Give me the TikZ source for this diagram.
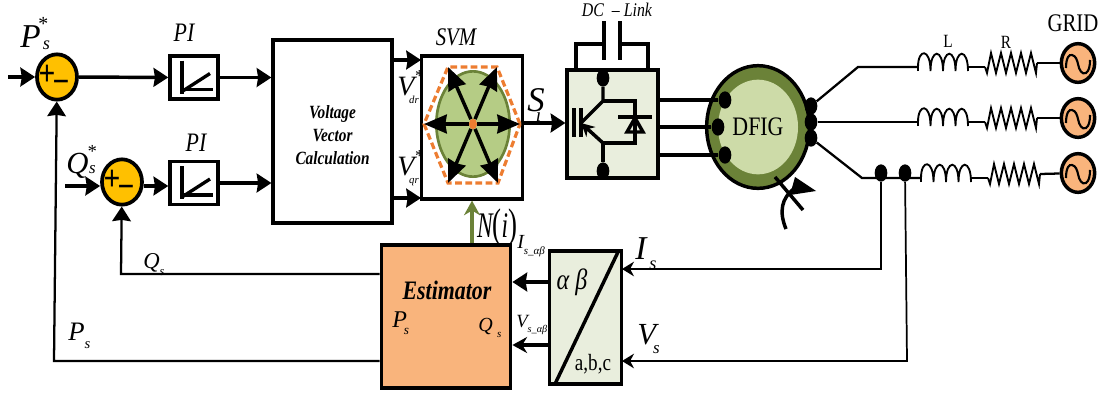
\documentclass[tikz,border=0pt]{standalone}
\usepackage{fontspec}
\setmainfont[FakeStretch=.82]{Liberation Serif}
\newfontfamily\symfont{Liberation Serif}
\newfontfamily\narrowfont[FakeStretch=.65]{Liberation Serif}
\usetikzlibrary{arrows.meta, shapes.geometric}
\definecolor{sumorange}{HTML}{FFC000}
\definecolor{estorange}{HTML}{F9B47C}
\definecolor{dashorange}{HTML}{ED7D31}
\definecolor{darkgreen}{HTML}{6B8238}
\definecolor{midgreen}{HTML}{B5CC85}
\definecolor{palegreen}{HTML}{CDDBA8}
\definecolor{paleblock}{HTML}{E9EEDD}
\newcommand{\fs}[1]{\fontsize{#1}{#1}\selectfont}
\newcommand{\Sym}[3]{{\symfont\itshape #1\rlap{\raisebox{.5em}{\scalebox{.6}{#2}}}\raisebox{-.32em}{\scalebox{.55}{#3}}}}
\tikzset{
  blockbox/.style={draw, line width=2.6pt, inner sep=0pt},
  sumbox/.style={draw, ellipse, line width=2.8pt, fill=sumorange, minimum width=30pt, minimum height=34pt, inner sep=0pt},
  sourcebox/.style={draw, ellipse, line width=2.6pt, fill=estorange, minimum width=25pt, minimum height=29pt, inner sep=0pt,
    path picture={\draw[line width=1.6pt, shift={(path picture bounding box.center)}]
      (-12,5) .. controls (-12,-5) and (-9,-9) .. (-6,-8) .. controls (-2,-7) and (-1,-3) .. (0,1)
      .. controls (1,7) and (4,12) .. (8,10) .. controls (11,8) and (12,3) .. (12,-3);}},
  dotbox/.style={draw=none, ellipse, fill=black, minimum width=9.5pt, minimum height=13pt, inner sep=0pt},
  lab/.style={inner sep=0pt},
  symlab/.style={inner sep=0pt, anchor=base west},
  wire/.style={line width=2.6pt},
  thinwire/.style={line width=1.7pt},
  ramp/.pic={
    \draw[line width=2.5pt] (-12,-17) -- (-12,16);
    \draw[line width=2.5pt] (-12,12) -- (19,12);
    \draw[line width=2.5pt] (-12,14) -- (16,-4);
  },
  coilpart/.pic={
    \coordinate (-in) at (0,0);
    \coordinate (-out) at (50,0);
    \draw[line width=1.4pt] (0,4) -- (0,0);
    \draw[line width=1.4pt] (0,0) foreach \i in {0,...,3} { .. controls ({\i*12.5},-19) and ({\i*12.5+12.5},-19) .. ({\i*12.5+12.5},4)};
  },
  respart/.pic={
    \coordinate (-in) at (0,4);
    \coordinate (-out) at (52,0);
    \draw[line width=1.4pt] (0,4) -- (2,10) foreach \i in {0,...,4} { -- ({\i*10+6},-10) -- ({\i*10+11},10)} -- (52,0);
  },
}
\begin{document}
\begin{tikzpicture}[x=.75pt, y=-.75pt, >={Stealth[length=11pt, width=14pt, inset=1pt]}]
\useasboundingbox (0,0) rectangle (1102,394);

% control blocks
\node[sumbox] (sum1) at (57,77) {};
\node[sumbox] (sum2) at (122,182) {};
\node[blockbox, minimum width=36pt, minimum height=32pt] (pi1) at (194,77.5) {};
\node[blockbox, minimum width=36pt, minimum height=32pt] (pi2) at (194,183) {};
\pic at (pi1) {ramp};
\pic at (pi2) {ramp};
\node[blockbox, minimum width=89pt, minimum height=137pt, align=center, font=\fs{14}\bfseries\itshape] (vvc) at (332.5,131.5)
  {\rule{0pt}{6pt}\\[-5pt]Voltage\\[3.5pt]Vector\\[3.5pt]Calculation};
\node[blockbox, minimum width=76pt, minimum height=107pt] (svm) at (472,127.5) {};
\node[blockbox, fill=estorange, minimum width=97pt, minimum height=107pt] (est) at (446,316.5) {};
\node[blockbox, fill=paleblock, minimum width=54pt, minimum height=100pt] (conv2) at (585.5,317.5) {};
\node[blockbox, fill=paleblock, minimum width=68pt, minimum height=81pt] (conv) at (612.5,124) {};

% signs
\foreach \s in {sum1,sum2}{
  \node[lab, font=\fs{27}\bfseries] (plus\s) at ([shift={(-10,-2)}]\s.center) {+};
  \node[lab, font=\fs{27}\bfseries] (minus\s) at ([shift={(4,10)}]\s.center) {−};
}

% svm
\node[draw=darkgreen, ellipse, line width=2pt, fill=midgreen, minimum width=55pt, minimum height=79pt, inner sep=0pt] (ell) at (473,124) {};
\coordinate (h1) at (520,124);
\coordinate (h2) at (497,67);
\coordinate (h3) at (448,67);
\coordinate (h4) at (424,124);
\coordinate (h5) at (448,183);
\coordinate (h6) at (498,183);
\draw[dashorange, line width=2.4pt, dash pattern=on 5pt off 2.6pt] (h1)--(h2)--(h3)--(h4)--(h5)--(h6)--cycle;
\node[draw=none, ellipse, fill=dashorange, minimum width=6pt, minimum height=8pt, inner sep=0pt] (hub) at (473,124) {};
\foreach \h in {h1,h2,h3,h4,h5,h6}{
  \draw[-{Stealth[length=17pt, width=14pt, inset=1pt]}, wire] (hub) -- (\h);
}

% converter
\node[dotbox] (ctop) at (603,78) {};
\node[dotbox] (cbot) at (603,171) {};
\coordinate (cc) at (603,101);
\coordinate (ce) at (603,143);
\coordinate (gb) at (581,123);
\draw[wire] (ctop) -- (cc) -- (gb);
\draw[wire] (cbot) -- (ce);
\draw[wire, -{Stealth[length=10pt, width=10pt]}] (ce) -- (gb);
\draw[wire] (cc) -- (635,101) -- (635,143) -- (ce);
\draw[wire] (574,108) -- (574,137);
\draw[wire] (581,108) -- (581,137);
\draw[wire] (618,117) -- (652,117);
\draw[wire] (635,118) -- (627,132) -- (643,132) -- cycle;

% dc link
\coordinate (pl1) at (604,44);
\coordinate (pl2) at (620,44);
\draw[wire] (604,21) -- (604,60);
\draw[wire] (620,21) -- (620,60);
\draw[wire] (conv.north -| 576,0) -- (576,44) -- (pl1);
\draw[wire] (conv.north -| 648,0) -- (648,44) -- (pl2);

% machine
\node[draw, ellipse, line width=2.6pt, fill=darkgreen, minimum width=77pt, minimum height=92pt, inner sep=0pt] (dfigout) at (758,127) {};
\node[draw=none, ellipse, fill=palegreen, minimum width=60pt, minimum height=71pt, inner sep=0pt, font=\fs{20}] (dfig) at (758,127) {DFIG};
\node[dotbox] (r1) at (725,100) {};
\node[dotbox] (r2) at (718,127) {};
\node[dotbox] (r3) at (725,155) {};
\node[dotbox] (s1) at (811,106) {};
\node[dotbox] (s2) at (811,122) {};
\node[dotbox] (s3) at (811,138) {};
\draw[wire] (conv.east |- r1) -- (r1);
\draw[wire] (conv.east |- r2) -- (r2);
\draw[wire] (conv.east |- r3) -- (r3);
\draw[wire] (775,177) -- (803,210);
\draw[wire] (786,229) .. controls (779,212) and (781,198) .. (795,188);
\fill (795,177) -- (816,191) -- (790,195) -- cycle;

% grid side
\pic (l1) at (918,67) {coilpart};
\pic (l2) at (918,122) {coilpart};
\pic (l3) at (921,178) {coilpart};
\pic (r1p) at (985,63) {respart};
\pic (r2p) at (985,118) {respart};
\pic (r3p) at (988,174) {respart};
\node[sourcebox] (g1) at (1078,63) {};
\node[sourcebox] (g2) at (1078,118) {};
\node[sourcebox] (g3) at (1078,173) {};
\coordinate (k1) at (858,67);
\coordinate (k3) at (862,178);
\node[dotbox] (m1) at (881,173) {};
\node[dotbox] (m2) at (905,173) {};
\draw[thinwire] (s1) -- (k1) -- (l1-in);
\draw[thinwire] (s2) -- (l2-in);
\draw[thinwire] (s3) -- (k3) -- (l3-in);
\draw[thinwire] (l1-out) -- (l1-out -| r1p-in);
\draw[thinwire] (l2-out) -- (l2-out -| r2p-in);
\draw[thinwire] (l3-out) -- (l3-out -| r3p-in);
\draw[thinwire] (r1p-out) -- (g1);
\draw[thinwire] (r2p-out) -- (g2);
\draw[thinwire] (r3p-out) -- (g3);

% feedback
\coordinate (p0) at (8,77);
\coordinate (q0) at (65,186);
\coordinate (dr) at (421,60);
\coordinate (qr) at (421,198);
\coordinate (iy) at (622,269);
\coordinate (vy) at (622,361);
\coordinate (qy) at (121,274);
\coordinate (py) at (54,361);
\draw[->, wire] (p0) -- (sum1);
\draw[->, wire] (sum1) -- (pi1);
\draw[->, wire] (pi1) -- (vvc.west |- pi1);
\draw[->, wire] (q0) -- (q0 -| sum2.west);
\draw[->, wire] (q0 -| sum2.east) -- (q0 -| pi2.west);
\draw[->, wire] (pi2) -- (vvc.west |- pi2);
\draw[->, wire] (vvc.east |- dr) -- (dr);
\draw[->, wire] (vvc.east |- qr) -- (qr);
\draw[->, wire] (svm.east |- 0,123) -- (conv.west |- 0,123);
\draw[->, line width=2.4pt, darkgreen, >={Stealth[length=11pt, width=12pt]}] (est.north -| 472,0) -- (svm.south -| 472,0);
\draw[->, thinwire] (est.west |- qy) -- (qy) -- (sum2);
\draw[->, thinwire] (est.west |- py) -- (py) -- (sum1);
\draw[->, line width=1.3pt, >={Stealth[length=9pt, width=11pt]}] (m1) -- (881,269) -- (iy);
\draw[->, line width=1.3pt, >={Stealth[length=9pt, width=11pt]}] (m2) -- (907,361) -- (vy);
\draw[->, wire] (conv2.west |- 0,282) -- (est.east |- 0,282);
\draw[->, wire, >={Stealth[length=11pt, width=12pt]}] (conv2.west |- 0,345) -- (est.east |- 0,345);
\draw[line width=2.6pt] (618,252) -- (555,384);

% labels
\node[symlab, font=\fs{25}] (lps) at (20,47) {\Sym{P}{\kern-4pt *}{\kern3pt\raisebox{.45em}{s}}};
\node[symlab, font=\fs{23}] (lqs) at (66,173) {\Sym{Q}{\kern-2pt *}{\kern1pt\raisebox{.58em}{s}}};
\node[lab, font=\fs{20}\itshape] (lpi1) at (184,33) {PI};
\node[lab, font=\fs{20}\itshape] (lpi2) at (196,143) {PI};
\node[lab, font=\fs{19}\itshape] (lsvm) at (456,37) {SVM};
\node[lab, font=\fs{14.5}\itshape] (ldc) at (617,10) {DC\ \ – Link};
\node[symlab, font=\fs{21}] (lvd) at (397,95) {\Sym{V}{*}{\kern-7pt\scalebox{.7}{dr}}};
\node[symlab, font=\fs{21}] (lvq) at (397,175) {\Sym{V}{*}{\kern-7pt\scalebox{.7}{qr}}};
\node[symlab, font=\fs{26}] (lsi) at (527,111) {\Sym{S}{}{\kern-12pt\raisebox{.02em}{i}}};
\node[lab, font=\fs{27}\narrowfont\itshape] (lni) at (497,228) {N{\fs{31}\upshape(}i{\fs{31}\upshape)}};
\node[symlab, font=\fs{15}] (lis2) at (517,248) {\Sym{I}{}{s\_αβ}};
\node[symlab, font=\fs{14}] (lvs2) at (516,327) {\Sym{V}{}{s\_αβ}};
\node[symlab, font=\fs{25}] (lis) at (635,259) {\Sym{I}{}{\kern4pt s}};
\node[symlab, font=\fs{23}] (lvs) at (637,344) {\Sym{V}{}{\kern-4pt s}};
\node[lab, font=\fs{22}\itshape] (lab) at (572,282) {α β};
\node[lab, font=\fs{17.5}] (labc) at (593,364) {a,b,c};
\node[lab, font=\fs{20}\bfseries\itshape] (lest) at (447,290) {Estimator};
\node[symlab, font=\fs{18}] (lpe) at (392,327) {\Sym{P}{}{\kern-4pt s}};
\node[symlab, font=\fs{15}] (lqe) at (478,331) {\Sym{Q}{}{\kern6pt s}};
\node[symlab, font=\fs{17}] (lqf) at (143,268) {\Sym{Q}{}{s}};
\node[symlab, font=\fs{20}] (lpf) at (68,340) {\Sym{P}{}{s}};
\node[lab, font=\fs{14}] (ll) at (948,41) {L};
\node[lab, font=\fs{14}] (lr) at (1006,42) {R};
\node[lab, font=\fs{19}] (lgrid) at (1073,23) {GRID};
\end{tikzpicture}
\end{document}
